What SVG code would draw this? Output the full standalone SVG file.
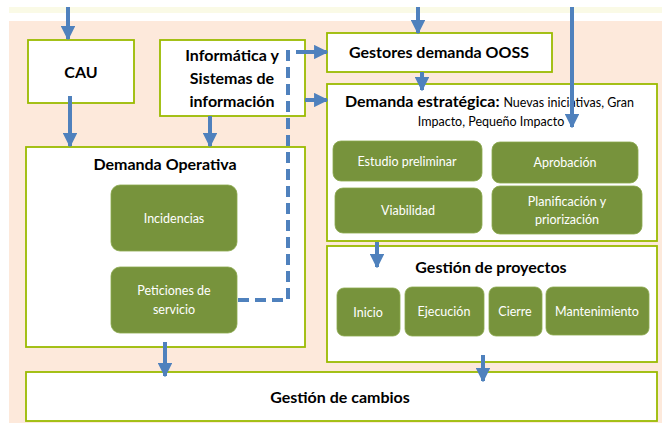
<svg xmlns="http://www.w3.org/2000/svg" width="662" height="423" viewBox="0 0 662 423">
<defs>
<marker id="ah" viewBox="0 0 10 10" refX="9" refY="5" markerWidth="3.6" markerHeight="3.6" markerUnits="strokeWidth" orient="auto">
<path d="M0,0 L10,5 L0,10 z" fill="#4f81bd"/>
</marker>
<style>
.box{fill:#fff;stroke:#9bbb00;stroke-width:1.8}
.g{fill:#77933c;stroke:#8aa84c;stroke-width:0.8}
.t{font-family:Lato,"Liberation Sans",sans-serif;font-weight:bold;font-size:16px;fill:#000;text-anchor:middle}
.w{font-family:Lato,"Liberation Sans",sans-serif;font-size:12.5px;fill:#fff;text-anchor:middle}
.s{font-family:Lato,"Liberation Sans",sans-serif;font-size:12.5px;fill:#000}
.c{stroke:#4f81bd;stroke-width:4;fill:none;marker-end:url(#ah)}
.d{stroke:#4f81bd;stroke-width:4;fill:none;stroke-dasharray:11 6}
</style>
</defs>
<rect x="0" y="0" width="662" height="423" fill="#fff"/>
<rect x="9" y="7" width="653" height="6" fill="#fafae6"/>
<rect x="9" y="21" width="653" height="402" fill="#fde9db"/>

<g id="cau"><rect class="box" x="28" y="40" width="106" height="63"/><text class="t" x="81" y="78">CAU</text></g>
<g id="informatica"><rect class="box" x="160" y="40" width="145" height="76"/>
<text class="t" x="232" y="61">Informática y</text><text class="t" x="232" y="84">Sistemas de</text><text class="t" x="232" y="107">información</text></g>
<g id="gestores"><rect class="box" x="327" y="33" width="225" height="39"/><text class="t" x="439" y="58">Gestores demanda OOSS</text></g>

<g id="demanda-operativa"><rect class="box" x="26" y="147" width="279" height="200"/>
<text class="t" x="165" y="170">Demanda Operativa</text></g>
<g id="incidencias"><rect class="g" x="111" y="185" width="126" height="66" rx="9"/><text class="w" x="174" y="223">Incidencias</text></g>
<g id="peticiones"><rect class="g" x="111" y="267" width="126" height="66" rx="9"/><text class="w" x="174" y="295">Peticiones de</text><text class="w" x="174" y="314">servicio</text></g>

<g id="demanda-estrategica"><rect class="box" x="327" y="84" width="330" height="157"/>
<text x="345" y="107" class="s"><tspan style="font-weight:bold;font-size:16px">Demanda estratégica: </tspan>Nuevas iniciativas, Gran</text>
<text x="491" y="126" class="s" text-anchor="middle">Impacto, Pequeño Impacto</text></g>
<g id="estudio"><rect class="g" x="333" y="141" width="149" height="40" rx="8"/><text class="w" x="407" y="166">Estudio preliminar</text></g>
<g id="aprobacion"><rect class="g" x="492" y="142" width="146" height="41" rx="8"/><text class="w" x="565" y="167">Aprobación</text></g>
<g id="viabilidad"><rect class="g" x="335" y="188" width="147" height="45" rx="8"/><text class="w" x="408" y="215">Viabilidad</text></g>
<g id="planificacion"><rect class="g" x="492" y="186" width="150" height="48" rx="8"/><text class="w" x="567" y="206">Planificación y</text><text class="w" x="567" y="224">priorización</text></g>

<g id="gestion-proyectos"><rect class="box" x="327" y="246" width="330" height="116"/>
<text class="t" x="491" y="273">Gestión de proyectos</text></g>
<g id="inicio"><rect class="g" x="337" y="288" width="63" height="48" rx="7"/><text class="w" x="368" y="317">Inicio</text></g>
<g id="ejecucion"><rect class="g" x="405" y="287" width="79" height="49" rx="7"/><text class="w" x="444" y="316">Ejecución</text></g>
<g id="cierre"><rect class="g" x="489" y="287" width="53" height="49" rx="7"/><text class="w" x="515" y="316">Cierre</text></g>
<g id="mantenimiento"><rect class="g" x="546" y="287" width="103" height="48" rx="7"/><text class="w" x="597" y="316">Mantenimiento</text></g>

<g id="gestion-cambios"><rect class="box" x="26" y="372" width="631" height="49"/><text class="t" x="340" y="403">Gestión de cambios</text></g>

<g id="connectors">
<path class="c" d="M68,7 V39"/>
<path class="c" d="M418,7 V33"/>
<path class="c" d="M572,7 V127"/>
<path class="c" d="M70,96 V146"/>
<path class="c" d="M210,116 V146"/>
<path class="c" d="M422,72 V90"/>
<path class="c" d="M305,100 H327"/>
<path class="d" d="M238,300 H288 V52 H305"/>
<path class="c" d="M303,52 H327"/>
<path class="c" d="M377,242 V267"/>
<path class="c" d="M165,342 V376"/>
<path class="c" d="M483,355 V381"/>
</g>
</svg>
